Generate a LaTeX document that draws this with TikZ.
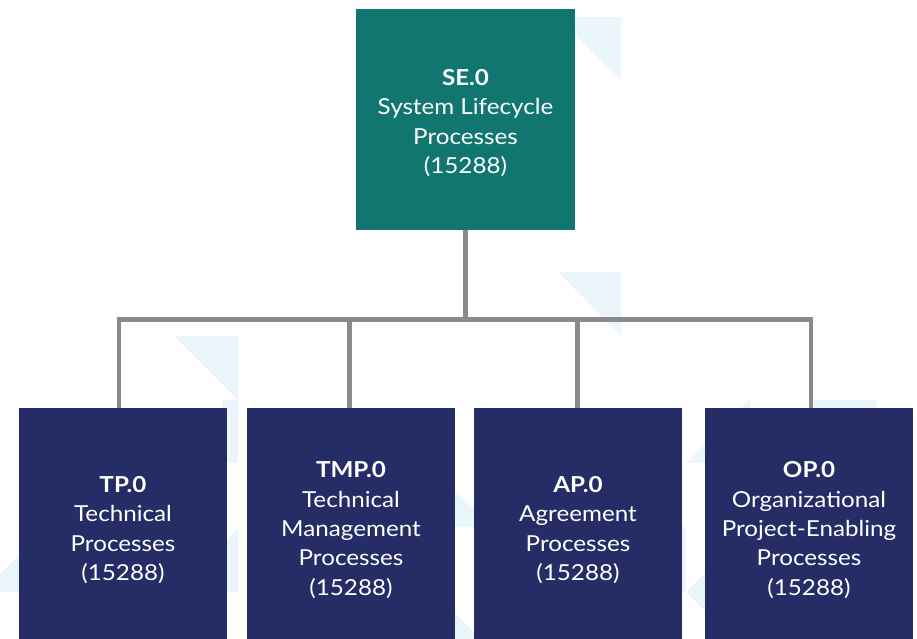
\documentclass[tikz,border=0pt]{standalone}
\usepackage{fontspec}
\setmainfont{Lato}[FakeStretch=1.1]
\definecolor{teal0}{HTML}{117670}
\definecolor{navy0}{HTML}{262C66}
\definecolor{line0}{HTML}{8A8A8E}
\definecolor{bgtri}{HTML}{EAF6FC}
\begin{document}
\begin{tikzpicture}[x=1pt,y=-1pt,
  topbox/.style={rectangle, fill=teal0, minimum width=219pt, minimum height=221pt, inner sep=0pt},
  toptext/.style={text=white, inner sep=0pt, align=center, font=\fontsize{22}{29.5}\selectfont},
  subbox/.style={rectangle, fill=navy0, text=white, minimum width=208pt, minimum height=244pt, inner sep=0pt, align=center, font=\fontsize{22}{29.3}\selectfont},
  conn/.style={draw=line0, line width=4.3pt},
  tri/.style={fill=bgtri, draw=none}]
\useasboundingbox (0,0) rectangle (917,638);
\clip (0,0) rectangle (917,638);
% background decoration
\fill[tri] (557,17) -- (621,17) -- (621,80) -- cycle;
\fill[tri] (558,272) -- (621,272) -- (621,336) -- cycle;
\fill[tri] (174,336) -- (238,336) -- (238,400) -- cycle;
\fill[tri] (222,400) rectangle (238,463);
\fill[tri] (174,592) -- (238,528) -- (238,592) -- cycle;
\fill[tri] (-18,592) -- (46,528) -- (46,592) -- cycle;
\fill[tri] (428,463) -- (428,527) -- (492,527) -- cycle;
\fill[tri] (428,586) -- (428,650) -- (492,650) -- cycle;
\fill[tri] (686,463) -- (750,399) -- (750,463) -- cycle;
\fill[tri] (686,592) -- (750,528) -- (750,592) -- cycle;
\fill[tri] (686,592) -- (750,656) -- (750,592) -- cycle;
\fill[tri] (680,527) rectangle (686,592);
\fill[tri] (814,400) rectangle (877,464);
% nodes
\node[topbox] (se) at (465.5,119.5) {};
\node[toptext, yshift=-3.5pt] (setext) at (se.center) {\textbf{SE.0}\\System Lifecycle\\Processes\\(15288)};
\node[subbox] (tp) at (123,530) {\textbf{TP.0}\\Technical\\Processes\\(15288)};
\node[subbox] (tmp) at (351,530) {\textbf{TMP.0}\\Technical\\Management\\Processes\\(15288)};
\node[subbox] (ap) at (578,530) {\textbf{AP.0}\\Agreement\\Processes\\(15288)};
\node[subbox] (op) at (809,530) {\textbf{OP.0}\\Organizational\\Project-Enabling\\Processes\\(15288)};
% connectors
\coordinate (bus) at (465.5,319.5);
\draw[conn] (se.south) -- (bus);
\draw[conn] (bus) -| ([xshift=-4pt]tp.north);
\draw[conn] (bus) -| ([xshift=-1.5pt]tmp.north);
\draw[conn] (bus) -| ([xshift=-0.5pt]ap.north);
\draw[conn] (bus) -| ([xshift=2.3pt]op.north);
\end{tikzpicture}
\end{document}
